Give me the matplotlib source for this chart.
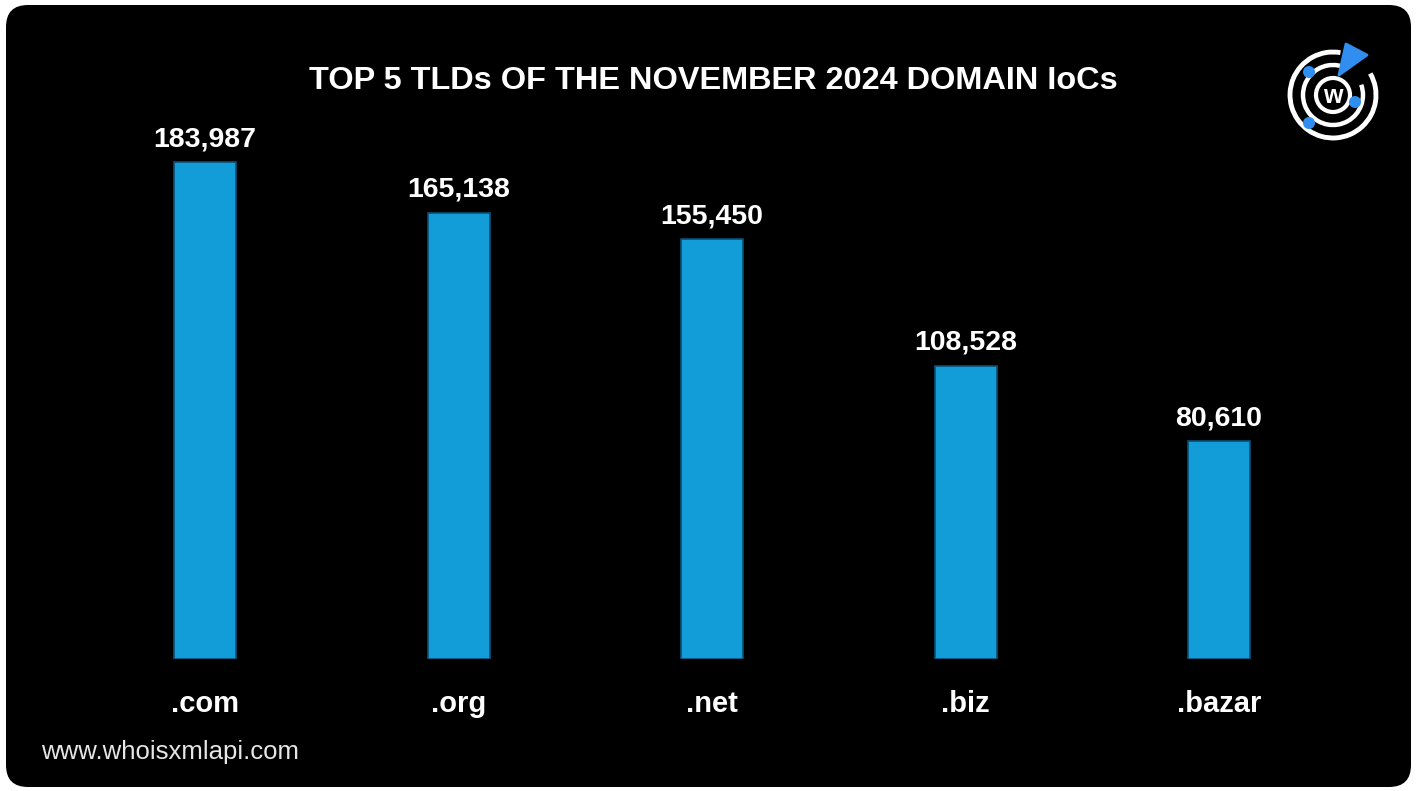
import matplotlib
matplotlib.use("Agg")
import matplotlib.pyplot as plt
from matplotlib.patches import FancyBboxPatch, Circle, Arc, Polygon

categories = [".com", ".org", ".net", ".biz", ".bazar"]
values = [183987, 165138, 155450, 108528, 80610]
value_labels = ["183,987", "165,138", "155,450", "108,528", "80,610"]
title = "TOP 5 TLDs OF THE NOVEMBER 2024 DOMAIN IoCs"
footer = "www.whoisxmlapi.com"

W, H = 1417, 791
fig = plt.figure(figsize=(W / 100, H / 100), dpi=100, facecolor="white")

def fx(px):
    return px / W

def fy(py):
    return 1 - py / H

# Background axes with rounded black panel
bax = fig.add_axes([0, 0, 1, 1], zorder=0)
bax.set_xlim(0, W)
bax.set_ylim(H, 0)
bax.axis("off")
bg = FancyBboxPatch((6, 5), 1405, 782, boxstyle="round,pad=0,rounding_size=22",
                    facecolor="black", edgecolor="none")
bax.add_patch(bg)

# Main axes geometry (pixels)
spacing = 253.5
left_px = 205 - spacing / 2
bottom_px = 659
top_px = 100
scale = (659 - 162) / 183987.0
ymax = (bottom_px - top_px) / scale
ax = fig.add_axes([fx(left_px), fy(bottom_px), 5 * spacing / W, (bottom_px - top_px) / H],
                  zorder=2)
ax.set_facecolor("none")
ax.set_xlim(-0.5, 4.5)
ax.set_ylim(0, ymax)
ax.axis("off")

xs = list(range(len(categories)))
ax.bar(xs, values, width=62 / spacing, color="#129cd8",
       edgecolor="#0b4f75", linewidth=1.2, zorder=2)
for x, v, lab in zip(xs, values, value_labels):
    ax.annotate(lab, (x, v), xytext=(0, 11.5), textcoords="offset points",
                ha="center", va="baseline", color="white", fontsize=20.5,
                fontweight="bold", family="Liberation Sans")
    ax.annotate(categories[x], (x, 0), xytext=(0, -53 * 0.72), textcoords="offset points",
                ha="center", va="baseline", color="white", fontsize=21,
                fontweight="bold", family="Liberation Sans")

fig.text(fx(713), fy(89), title, ha="center", va="baseline", color="white",
         fontsize=23.4, fontweight="bold", family="Liberation Sans", zorder=3)
fig.text(fx(41), fy(759), footer, ha="left", va="baseline", color="#e6e6e6",
         fontsize=18.5, family="Liberation Sans", zorder=3)

# Logo (y axis inverted: data angle = -visual angle)
lax = fig.add_axes([fx(1280), fy(150), fx(110), (150 - 35) / H], zorder=3)
lax.set_xlim(1280, 1390)
lax.set_ylim(150, 35)
lax.set_aspect("equal")
lax.axis("off")
cx, cy = 1333, 95
lax.add_patch(Arc((cx, cy), 86, 86, theta1=-30, theta2=280, color="white", lw=3.5))
lax.add_patch(Arc((cx, cy), 60, 60, theta1=-20, theta2=300, color="white", lw=3.2))
lax.add_patch(Circle((cx, cy), 17, facecolor="none", edgecolor="white", lw=3))
lax.text(cx, cy + 1, "w", ha="center", va="center", color="white",
         fontsize=18, fontweight="bold", family="Liberation Sans")
for (dx, dy) in [(1309, 72), (1355, 102), (1309, 123)]:
    lax.add_patch(Circle((dx, dy), 6, facecolor="#2f8ef0", edgecolor="none", zorder=3))
lax.add_patch(Polygon([(1339, 75), (1346, 44), (1367, 55)], closed=True,
                      facecolor="#2f8ef0", edgecolor="#2f8ef0", lw=2, joinstyle="round", zorder=3))

fig.savefig("out.png", dpi=100, facecolor="white")
